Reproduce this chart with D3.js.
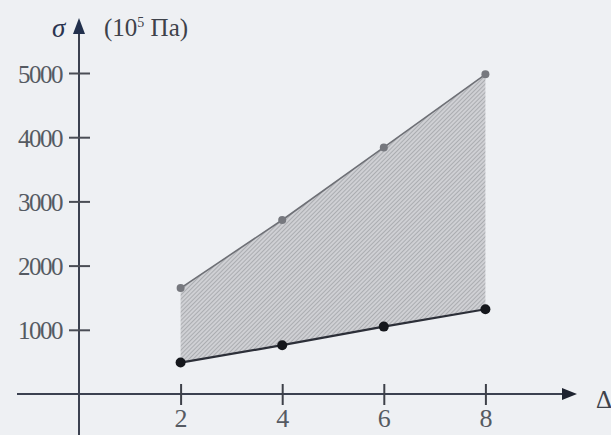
<!DOCTYPE html>
<html>
<head>
<meta charset="utf-8">
<script src="https://cdn.jsdelivr.net/npm/d3@7"></script>
<style>
  body { margin: 0; background: #eef0f3; }
  svg { display: block; }
  text { font-family: "Liberation Serif", "DejaVu Serif", serif; }
</style>
</head>
<body>
<div id="chart"></div>
<script>
// data
var strain = [2, 4, 6, 8];
var upper = [1650, 2710, 3840, 4980];
var lower = [490, 760, 1050, 1320];
var yTicks = [1000, 2000, 3000, 4000, 5000];
var xTicks = [2, 4, 6, 8];

var width = 611, height = 435;

var x = d3.scaleLinear().domain([0, 10]).range([79, 587]);
var y = d3.scaleLinear().domain([0, 5000]).range([394, 73]);

var svg = d3.select("#chart").append("svg")
    .attr("width", width)
    .attr("height", height);

var defs = svg.append("defs");
var pat = defs.append("pattern")
    .attr("id", "hatch")
    .attr("patternUnits", "userSpaceOnUse")
    .attr("width", 3).attr("height", 3)
    .attr("patternTransform", "rotate(45)");
pat.append("rect").attr("width", 3).attr("height", 3).attr("fill", "#cfd0d4");
pat.append("line").attr("x1", 0).attr("y1", 0).attr("x2", 0).attr("y2", 3)
    .attr("stroke", "#8e9095").attr("stroke-width", 1.1);

var rows = strain.map(function(d, i) { return {s: d, hi: upper[i], lo: lower[i]}; });

// shaded band
var area = d3.area()
    .x(function(d) { return x(d.s); })
    .y0(function(d) { return y(d.lo); })
    .y1(function(d) { return y(d.hi); });
svg.append("path").datum(rows).attr("d", area).attr("fill", "url(#hatch)");

// axes lines with arrows
var axisCol = "#3b4150";
svg.append("line").attr("x1", 17).attr("x2", 564).attr("y1", y(0)).attr("y2", y(0))
    .attr("stroke", axisCol).attr("stroke-width", 2);
svg.append("path").attr("d", "M562," + (y(0) - 6) + "L577," + y(0) + "L562," + (y(0) + 6) + "Z")
    .attr("fill", "#1e2330");
svg.append("line").attr("x1", x(0)).attr("x2", x(0)).attr("y1", 32).attr("y2", height)
    .attr("stroke", axisCol).attr("stroke-width", 2);
svg.append("path").attr("d", "M" + (x(0) - 6) + ",34L" + x(0) + ",18L" + (x(0) + 6) + ",34Z")
    .attr("fill", "#22304d");

// y ticks
var yAxis = svg.append("g").attr("transform", "translate(" + x(0) + ",0)")
    .call(d3.axisLeft(y).tickValues(yTicks).tickFormat(d3.format("d")).tickSize(0).tickPadding(17));
yAxis.select(".domain").remove();
yAxis.selectAll(".tick line").attr("x1", -10).attr("x2", 11)
    .attr("stroke", "#4a4d55").attr("stroke-width", 2);
yAxis.selectAll(".tick text").attr("fill", "#555a62")
    .style("font-size", "25px").style("letter-spacing", "-1.5px").attr("dy", "0.36em");

// x ticks
var xAxis = svg.append("g").attr("transform", "translate(0," + y(0) + ")")
    .call(d3.axisBottom(x).tickValues(xTicks).tickSize(0).tickPadding(15));
xAxis.select(".domain").remove();
xAxis.selectAll(".tick line").attr("y1", -10).attr("y2", 11)
    .attr("stroke", "#3d4048").attr("stroke-width", 2);
xAxis.selectAll(".tick text").attr("fill", "#555a62").style("font-size", "26px");

// boundary lines
var lineHi = d3.line().x(function(d) { return x(d.s); }).y(function(d) { return y(d.hi); });
var lineLo = d3.line().x(function(d) { return x(d.s); }).y(function(d) { return y(d.lo); });
svg.append("path").datum(rows).attr("d", lineHi)
    .attr("fill", "none").attr("stroke", "#6e7076").attr("stroke-width", 1.6);
svg.append("path").datum(rows).attr("d", lineLo)
    .attr("fill", "none").attr("stroke", "#2c2f38").attr("stroke-width", 2.2);

svg.selectAll(".dotHi").data(rows).enter().append("circle")
    .attr("cx", function(d) { return x(d.s); })
    .attr("cy", function(d) { return y(d.hi); })
    .attr("r", 4).attr("fill", "#76787e");
svg.selectAll(".dotLo").data(rows).enter().append("circle")
    .attr("cx", function(d) { return x(d.s); })
    .attr("cy", function(d) { return y(d.lo); })
    .attr("r", 5).attr("fill", "#15171c");

// axis titles
svg.append("text").attr("x", 52).attr("y", 37).text("σ")
    .attr("fill", "#2a3450").style("font-size", "27px").style("font-style", "italic");
var unit = svg.append("text").attr("x", 104).attr("y", 36)
    .attr("fill", "#3e424a").style("font-size", "25px");
unit.append("tspan").text("(10");
unit.append("tspan").text("5").attr("dy", -9).style("font-size", "14px");
unit.append("tspan").text(" Па)").attr("dy", 9);
svg.append("text").attr("x", 596).attr("y", 408).text("Δ")
    .attr("fill", "#3e424a").style("font-size", "25px");
</script>
</body>
</html>
